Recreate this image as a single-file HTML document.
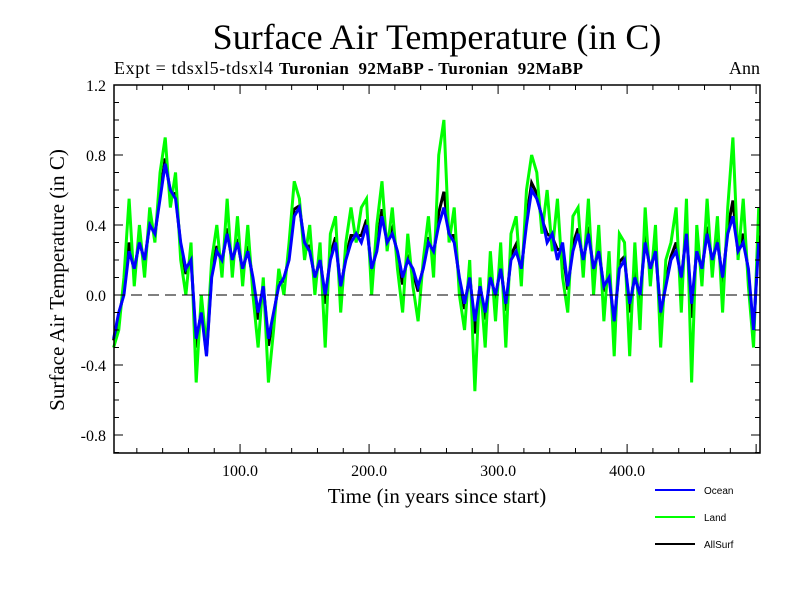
<!DOCTYPE html>
<html><head><meta charset="utf-8"><style>
body{margin:0;background:#fff}
svg text{font-family:"Liberation Serif",serif}
</style></head><body>
<svg id="c" width="800" height="600">
<text x="437" y="49" font-size="36" text-anchor="middle">Surface Air Temperature (in C)</text>
<text x="114" y="74" font-size="18" textLength="159">Expt = tdsxl5-tdsxl4</text>
<text x="279" y="74" font-size="17" font-weight="bold" style="white-space:pre" textLength="304">Turonian  92MaBP - Turonian  92MaBP</text>
<text x="760" y="74" font-size="18" text-anchor="end">Ann</text>
<text transform="translate(64,280) rotate(-90)" font-size="21" text-anchor="middle">Surface Air Temperature (in C)</text>
<text x="437" y="503" font-size="21" text-anchor="middle">Time (in years since start)</text>
<g id="plot"></g>
<g id="legend" font-size="10">
<line x1="655" y1="490" x2="695" y2="490" stroke="#0000ff" stroke-width="2"/>
<text x="704" y="494" style="font-family:'Liberation Sans',sans-serif">Ocean</text>
<line x1="655" y1="517" x2="695" y2="517" stroke="#00ff00" stroke-width="2"/>
<text x="704" y="521" style="font-family:'Liberation Sans',sans-serif">Land</text>
<line x1="655" y1="544" x2="695" y2="544" stroke="#000" stroke-width="2"/>
<text x="704" y="548" style="font-family:'Liberation Sans',sans-serif">AllSurf</text>
</g>
</svg>
<script>
const years=[];for(let y=2;y<=502;y+=4)years.push(y);
const ocean=[-0.25,-0.1,0.0,0.25,0.15,0.3,0.2,0.4,0.35,0.55,0.75,0.6,0.55,0.3,0.15,0.2,-0.25,-0.1,-0.35,0.1,0.25,0.2,0.35,0.2,0.3,0.15,0.25,0.1,-0.1,0.05,-0.25,-0.1,0.05,0.1,0.2,0.45,0.5,0.3,0.25,0.1,0.2,0.0,0.2,0.3,0.05,0.2,0.3,0.35,0.3,0.4,0.15,0.25,0.45,0.3,0.35,0.25,0.1,0.2,0.15,0.05,0.15,0.3,0.25,0.4,0.5,0.35,0.3,0.1,-0.05,0.1,-0.15,0.05,-0.1,0.1,0.0,0.15,-0.05,0.2,0.25,0.15,0.4,0.6,0.55,0.45,0.3,0.35,0.2,0.3,0.05,0.25,0.35,0.2,0.35,0.15,0.25,0.05,0.1,-0.15,0.15,0.2,-0.05,0.1,0.0,0.3,0.15,0.25,-0.1,0.05,0.2,0.25,0.1,0.35,-0.05,0.25,0.15,0.35,0.2,0.3,0.1,0.35,0.45,0.25,0.3,0.15,-0.2,0.3];
const land=[-0.3,-0.2,0.1,0.55,0.05,0.4,0.1,0.5,0.3,0.7,0.9,0.5,0.7,0.2,0.0,0.3,-0.5,0.0,-0.3,0.2,0.4,0.1,0.55,0.1,0.45,0.05,0.4,0.0,-0.3,0.1,-0.5,-0.2,0.15,0.0,0.3,0.65,0.55,0.2,0.4,0.0,0.3,-0.3,0.35,0.45,-0.1,0.3,0.5,0.3,0.5,0.55,0.0,0.4,0.65,0.25,0.5,0.15,-0.1,0.35,0.05,-0.15,0.2,0.45,0.1,0.8,1.0,0.3,0.5,0.0,-0.2,0.2,-0.55,0.1,-0.3,0.25,-0.15,0.3,-0.3,0.35,0.45,0.05,0.6,0.8,0.7,0.35,0.6,0.25,0.55,0.1,-0.1,0.45,0.5,0.1,0.55,0.0,0.4,-0.15,0.25,-0.35,0.35,0.3,-0.35,0.3,-0.2,0.5,0.05,0.4,-0.3,0.2,0.3,0.5,-0.1,0.55,-0.5,0.4,0.05,0.55,0.1,0.45,-0.1,0.5,0.9,0.2,0.55,0.05,-0.3,0.5];
const allsurf=[-0.26,-0.12,0.02,0.3,0.13,0.32,0.18,0.42,0.34,0.58,0.78,0.58,0.58,0.28,0.12,0.22,-0.3,-0.08,-0.34,0.12,0.28,0.18,0.38,0.18,0.32,0.13,0.28,0.08,-0.14,0.06,-0.29,-0.12,0.07,0.08,0.22,0.49,0.51,0.28,0.28,0.08,0.22,-0.05,0.23,0.33,0.03,0.22,0.34,0.34,0.34,0.43,0.12,0.28,0.49,0.3,0.38,0.23,0.06,0.23,0.13,0.02,0.16,0.33,0.22,0.47,0.59,0.34,0.34,0.08,-0.08,0.12,-0.22,0.06,-0.14,0.13,-0.03,0.18,-0.09,0.23,0.29,0.13,0.44,0.64,0.58,0.43,0.35,0.33,0.26,0.26,0.03,0.29,0.38,0.18,0.39,0.13,0.28,0.02,0.13,-0.19,0.19,0.22,-0.1,0.14,-0.03,0.34,0.13,0.28,-0.14,0.08,0.22,0.3,0.07,0.39,-0.13,0.28,0.13,0.39,0.18,0.33,0.07,0.38,0.54,0.24,0.35,0.13,-0.22,0.34];
const yTicks=[-0.8,-0.4,0.0,0.4,0.8,1.2];
const yTickLabels=["-0.8","-0.4","0.0","0.4","0.8","1.2"];
const xTicks=[100,200,300,400];
const xTickLabels=["100.0","200.0","300.0","400.0"];
const L=114,R=760,T=85,B=453,X0=2.3,X1=503,Y0=-0.9029,Y1=1.2;
const sx=v=>L+(v-X0)/(X1-X0)*(R-L);
const sy=v=>B-(v-Y0)/(Y1-Y0)*(B-T);
const NS="http://www.w3.org/2000/svg";
const g=document.getElementById('plot');
function mk(t,a){const e=document.createElementNS(NS,t);for(const k in a)e.setAttribute(k,a[k]);g.appendChild(e);return e;}
function series(arr,col,name){
 const p=mk('polyline',{points:arr.map((v,i)=>sx(years[i])+','+sy(v)).join(' '),fill:'none',stroke:col,'stroke-width':3});
 
 
}
series(allsurf,'#000','allsurf-line');
series(land,'#00ff00','land-line');
series(ocean,'#0000ff','ocean-line');
const z=mk('line',{x1:L,x2:R,y1:sy(0),y2:sy(0),stroke:'#000','stroke-dasharray':'11,6'});


const f=mk('rect',{x:L,y:T,width:R-L,height:B-T,fill:'none',stroke:'#000','stroke-width':1.5});


for(let v=-0.9;v<=1.2001;v+=0.1){const y=sy(v);const maj=Math.abs(Math.round(v*10)%4)==0;const w=maj?9:5;
 mk('line',{x1:L,x2:L+w,y1:y,y2:y,stroke:'#000'});mk('line',{x1:R,x2:R-w,y1:y,y2:y,stroke:'#000'});}
for(let v=20;v<=500;v+=20){const x=sx(v);const w=v%100==0?9:5;
 mk('line',{x1:x,x2:x,y1:B,y2:B-w,stroke:'#000'});mk('line',{x1:x,x2:x,y1:T,y2:T+w,stroke:'#000'});}
yTicks.forEach((v,i)=>{const t=mk('text',{x:L-8,y:sy(v)+6,'font-size':16,'text-anchor':'end'});t.textContent=yTickLabels[i];
 
 });
xTicks.forEach((v,i)=>{const t=mk('text',{x:sx(v),y:B+23,'font-size':16,'text-anchor':'middle'});t.textContent=xTickLabels[i];
 
 });
</script>
</body></html>
